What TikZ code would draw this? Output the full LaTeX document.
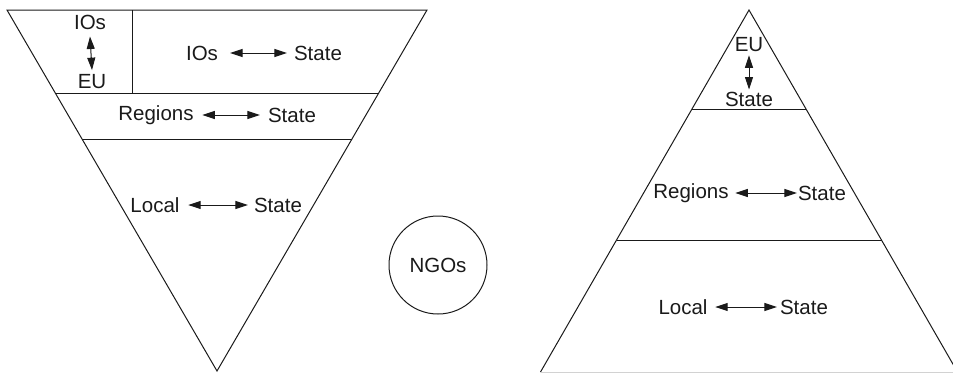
\documentclass[tikz,border=0pt]{standalone}
\usepackage{fontspec}
\setmainfont{Liberation Sans}
\usetikzlibrary{arrows.meta}
\definecolor{ink}{HTML}{1A1A1A}
\tikzset{
  lbl/.style={font=\fontsize{20.5}{22}\selectfont, text=ink, inner sep=0pt},
  edge/.style={draw=ink, line width=1pt},
  tip/.tip={Triangle[length=12.5pt,width=8pt]},
  arr/.style={draw=ink, line width=1pt, tip-tip},
}
\begin{document}
\begin{tikzpicture}[x=1pt,y=-1pt]
\useasboundingbox (0,0) rectangle (953,373);
% left inverted triangle
\coordinate (L1) at (7,10);
\coordinate (L2) at (427,10);
\coordinate (L3) at (217,371);
\draw[edge, line join=miter] (L1) -- (L2) -- (L3) -- cycle;
\coordinate (La) at (55.3,93);
\coordinate (Lb) at (378.7,93);
\coordinate (Lc) at (82,139);
\coordinate (Ld) at (352,139);
\coordinate (Dv1) at (132,10);
\coordinate (Dv2) at (132,93);
\draw[edge] (La) -- (Lb);
\draw[edge] (Lc) -- (Ld);
\draw[edge] (Dv1) -- (Dv2);
% left texts
\node[lbl] (ios1) at (90,22) {IOs};
\node[lbl] (eu1) at (92,82) {EU};
\draw[arr] ([yshift=-7]ios1.south) -- ([yshift=4.5]eu1.north);
\node[lbl] (ios2) at (202,53) {IOs};
\node[lbl] (st1) at (318,53) {State};
\draw[arr] ([xshift=12]ios2.east) -- ([xshift=-7]st1.west);
\node[lbl] (reg1) at (156,115) {Regions};
\node[lbl] (st2) at (292,115) {State};
\draw[arr] ([xshift=8.5]reg1.east) -- ([xshift=-8]st2.west);
\node[lbl] (loc1) at (155,205) {Local};
\node[lbl] (st3) at (278,205) {State};
\draw[arr] ([xshift=8.5]loc1.east) -- ([xshift=-6]st3.west);
% NGOs circle
\node[circle, draw=ink, line width=1pt, minimum size=98pt, inner sep=0pt, font=\fontsize{20.5}{22}\selectfont, text=ink] (ngo) at (438,265) {NGOs};
% right triangle
\coordinate (R1) at (749,10);
\coordinate (R2) at (957.5,372);
\coordinate (R3) at (540.5,372);
\draw[edge] (R3) -- (R1) -- (R2);
\draw[draw=gray!35, line width=1pt] (R3) -- (R2);
\coordinate (Ra) at (692,109);
\coordinate (Rb) at (806,109);
\coordinate (Rc) at (616.5,240);
\coordinate (Rd) at (881.5,240);
\draw[edge] (Ra) -- (Rb);
\draw[edge] (Rc) -- (Rd);
% right texts
\node[lbl] (eu2) at (749,45) {EU};
\node[lbl] (st4) at (749,99) {State};
\draw[arr] ([yshift=-3]eu2.south) -- ([yshift=2]st4.north);
\node[lbl] (reg2) at (691,193) {Regions};
\node[lbl] (st5) at (822,193) {State};
\draw[arr] ([xshift=6.5]reg2.east) -- ([xshift=-1]st5.west);
\node[lbl] (loc2) at (683,307) {Local};
\node[lbl] (st6) at (804,307) {State};
\draw[arr] ([xshift=7.5]loc2.east) -- ([xshift=-3]st6.west);
\end{tikzpicture}
\end{document}
